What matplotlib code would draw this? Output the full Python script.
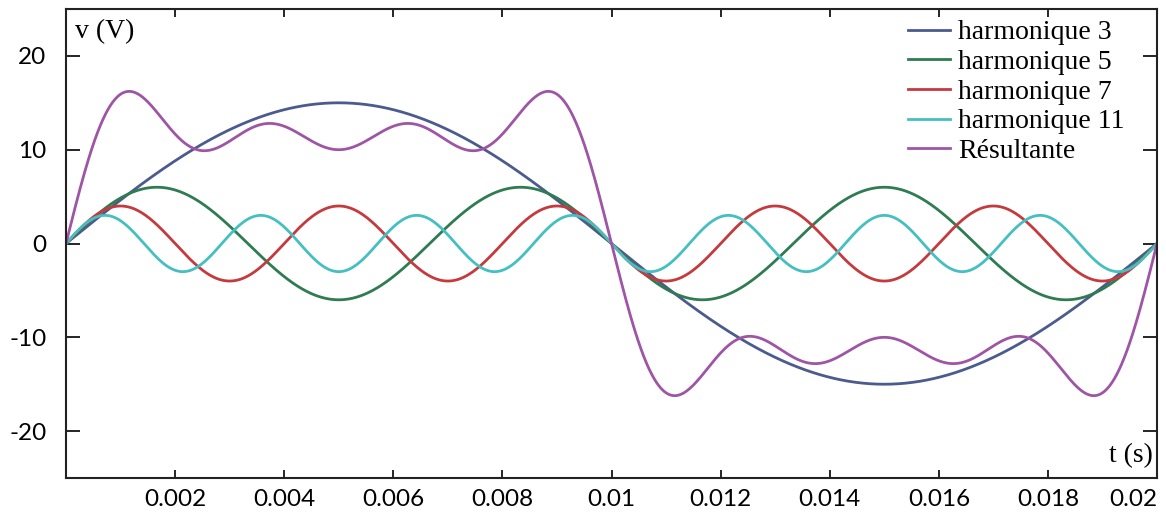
import numpy as np
import matplotlib
matplotlib.use("Agg")
import matplotlib.pyplot as plt

plt.rcParams['axes.unicode_minus'] = False

# data: amplitudes (V) and harmonic order of each curve
period = 0.02  # s
orders = [1, 3, 5, 7]
amplitudes = [15.0, 6.0, 4.0, 3.0]
labels = ["harmonique 3", "harmonique 5", "harmonique 7", "harmonique 11", "Résultante"]
colors = ["#4b5b8e", "#2f7b52", "#c43a3d", "#45bfc0", "#9f55a6"]

xticks = [0.002, 0.004, 0.006, 0.008, 0.01, 0.012, 0.014, 0.016, 0.018, 0.02]
xtick_labels = ["0.002", "0.004", "0.006", "0.008", "0.01", "0.012", "0.014", "0.016", "0.018", "0.02"]
yticks = [-20, -10, 0, 10, 20]
ytick_labels = ["-20", "-10", "0", "10", "20"]

t = np.linspace(0, period, 2001)
w = 2 * np.pi / period
curves = [a * np.sin(n * w * t) for a, n in zip(amplitudes, orders)]
curves.append(np.sum(curves, axis=0))

fig = plt.figure(figsize=(11.66, 5.15), dpi=100)
ax = fig.add_axes([0.0566, 0.0718, 0.9357, 0.9107])

for y, c, lab in zip(curves, colors, labels):
    ax.plot(t, y, color=c, lw=2.0, label=lab)

ax.set_xlim(0, 0.02)
ax.set_ylim(-25, 25)
ax.set_xticks(xticks)
ax.set_xticklabels(xtick_labels, fontfamily="Lato", fontsize=17.5)
ax.get_xticklabels()[-1].set_horizontalalignment("right")
ax.set_yticks(yticks)
ax.set_yticklabels(ytick_labels, fontfamily="Lato", fontsize=17.5)
ax.tick_params(axis="x", direction="in", length=6, width=1.2, top=True, pad=8)
ax.tick_params(axis="y", direction="in", length=10, width=1.2, right=True, pad=14)
for s in ax.spines.values():
    s.set_linewidth(1.5)
    s.set_color("#222222")

ax.text(0.008, 0.952, "v (V)", transform=ax.transAxes, fontfamily="Liberation Serif",
        fontsize=20, va="center", ha="left")
ax.text(0.996, 0.048, "t (s)", transform=ax.transAxes, fontfamily="Liberation Serif",
        fontsize=20, va="center", ha="right")

leg = fig.legend(loc="upper left", frameon=False, prop={"family": "Liberation Serif", "size": 20},
                 handlelength=1.5, handletextpad=0.3, labelspacing=0.15,
                 borderaxespad=0, borderpad=0, bbox_to_anchor=(908 / 1166, 1 - 20 / 515))

fig.savefig("out.png", dpi=100)
